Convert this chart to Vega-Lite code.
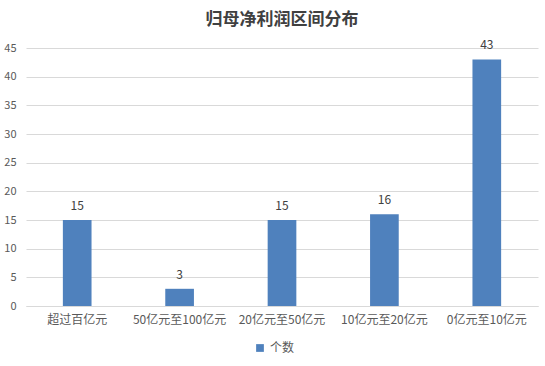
{
  "$schema": "https://vega.github.io/schema/vega-lite/v6.json",
  "width": 512,
  "height": 258,
  "autosize": "none",
  "padding": {"left": 26, "top": 48, "right": 7, "bottom": 60},
  "background": "white",
  "title": {
    "text": "归母净利润区间分布",
    "font": "Noto Sans CJK SC",
    "fontSize": 17,
    "fontWeight": "bold",
    "color": "#404040",
    "anchor": "middle",
    "offset": 10
  },
  "data": {
    "values": [
      {"区间": "超过百亿元", "个数": 15, "series": "个数"},
      {"区间": "50亿元至100亿元", "个数": 3, "series": "个数"},
      {"区间": "20亿元至50亿元", "个数": 15, "series": "个数"},
      {"区间": "10亿元至20亿元", "个数": 16, "series": "个数"},
      {"区间": "0亿元至10亿元", "个数": 43, "series": "个数"}
    ]
  },
  "config": {
    "view": {"stroke": null},
    "font": "Noto Sans CJK SC"
  },
  "encoding": {
    "x": {
      "field": "区间",
      "type": "nominal",
      "sort": null,
      "scale": {"paddingInner": 0.72, "paddingOuter": 0.36},
      "axis": {
        "title": null,
        "labelAngle": 0,
        "labelFontSize": 12,
        "labelColor": "#595959",
        "labelPadding": 8,
        "ticks": false,
        "domainColor": "#d9d9d9",
        "labelFont": "Noto Sans CJK SC"
      }
    },
    "y": {
      "field": "个数",
      "type": "quantitative",
      "scale": {"domain": [0, 45]},
      "axis": {
        "title": null,
        "values": [0, 5, 10, 15, 20, 25, 30, 35, 40, 45],
        "labelOverlap": false,
        "labelFontSize": 11,
        "labelColor": "#595959",
        "labelPadding": 10,
        "ticks": false,
        "domain": false,
        "gridColor": "#d9d9d9"
      }
    }
  },
  "layer": [
    {
      "mark": {"type": "bar", "color": "#4F81BD"},
      "encoding": {
        "color": {
          "field": "series",
          "type": "nominal",
          "scale": {"range": ["#4F81BD"]},
          "legend": {
            "title": null,
            "orient": "none",
            "legendX": 228,
            "legendY": 294,
            "symbolType": "square",
            "symbolSize": 60,
            "labelFontSize": 12,
            "labelColor": "#595959",
            "direction": "horizontal"
          }
        }
      }
    },
    {
      "mark": {"type": "text", "dy": -14, "fontSize": 12, "color": "#404040"},
      "encoding": {
        "text": {"field": "个数", "type": "quantitative"}
      }
    }
  ]
}
